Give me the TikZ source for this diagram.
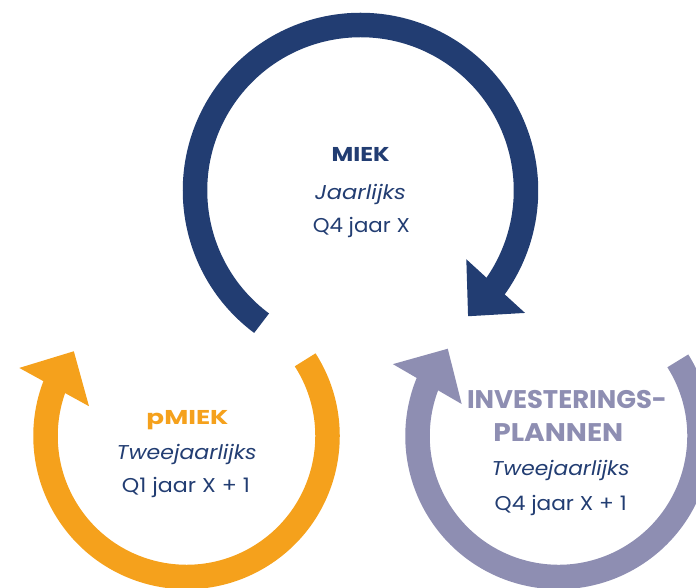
\documentclass[tikz,border=0pt]{standalone}
\usepackage{fontspec}
\setmainfont{Poppins}
\usepackage{graphicx}
\usetikzlibrary{arrows.meta,bending}
\definecolor{navy}{HTML}{223D72}
\definecolor{amber}{HTML}{F5A11C}
\definecolor{lilac}{HTML}{8E8EB2}
\newcommand{\fitto}[2]{\resizebox{#1}{\height}{#2}}
\begin{document}
\begin{tikzpicture}[x=1pt,y=1pt,
  ring/.style={line width=24.5pt, -{Triangle[length=41pt,width=77pt,flex]}},
  txt/.style={anchor=base, inner sep=0pt, text=navy, font=\fontsize{20}{24}\selectfont},
  ttl/.style={anchor=base, inner sep=0pt, font=\fontsize{20}{24}\selectfont\bfseries},
  bigttl/.style={anchor=base, inner sep=0pt, font=\fontsize{25.5}{30}\selectfont\bfseries},
]
\useasboundingbox (0,0) rectangle (696,587);
\clip (0,0) rectangle (696,587);
\coordinate (cb) at (360.5,396.5);
\coordinate (co) at (186.5,151);
\coordinate (cv) at (558.5,151);
\draw[ring, navy] (cb) ++(233.3:165.5) arc[start angle=233.3, end angle=-49.5, radius=165.5];
\draw[ring, amber] (co) ++(32.7:141) arc[start angle=32.7, end angle=-217, radius=141];
\draw[ring, lilac] (cv) ++(32.2:141) arc[start angle=32.2, end angle=-218.3, radius=141];
% MIEK
\node[ttl, text=navy] (miek) at (360.7,425.3) {\fitto{58pt}{MIEK}};
\node[txt] (miekfreq) at (360.5,387) {\fitto{91pt}{\itshape Jaarlijks}};
\node[txt] (miekwhen) at (361.3,354.7) {\fitto{97pt}{Q4 jaar X}};
% pMIEK
\node[ttl, text=amber] (pmiek) at (187.5,162.7) {\fitto{82pt}{pMIEK}};
\node[txt] (pmiekfreq) at (186.7,128) {\fitto{140pt}{\itshape Tweejaarlijks}};
\node[txt] (pmiekwhen) at (186,94.7) {\fitto{128pt}{Q1 jaar X + 1}};
% Investeringsplannen
\node[bigttl, text=lilac] (ip1) at (567,178.7) {\fitto{200pt}{INVESTERINGS-}};
\node[bigttl, text=lilac] (ip2) at (558.3,145.3) {\fitto{130pt}{PLANNEN}};
\node[txt] (ipfreq) at (560.7,112) {\fitto{138pt}{\itshape Tweejaarlijks}};
\node[txt] (ipwhen) at (560.7,77) {\fitto{132pt}{Q4 jaar X + 1}};
\end{tikzpicture}
\end{document}
